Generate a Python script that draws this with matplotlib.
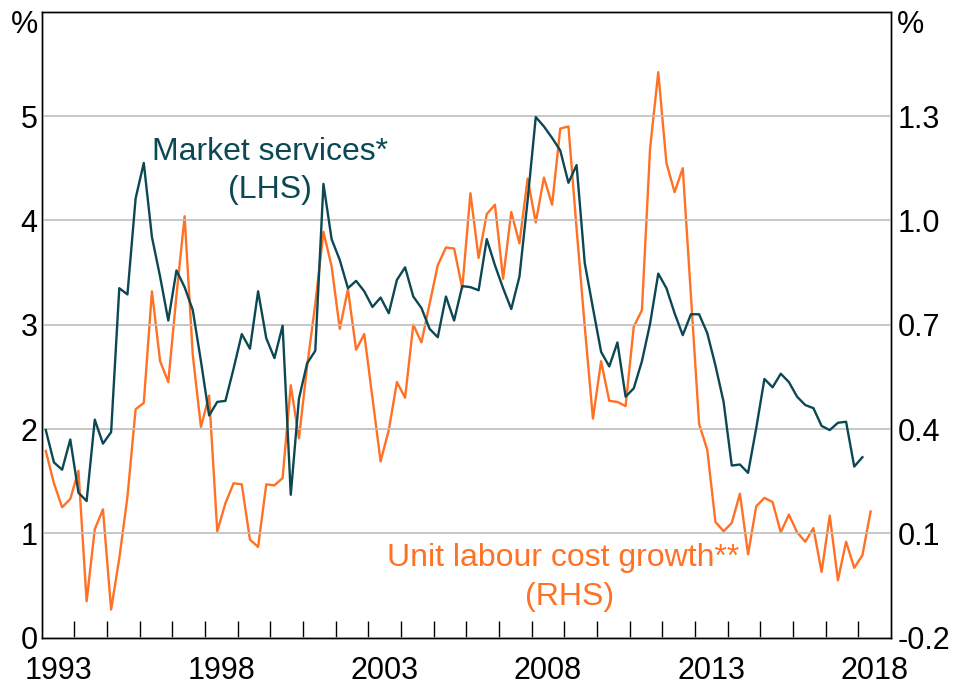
import numpy as np
import matplotlib
matplotlib.use("Agg")
import matplotlib.pyplot as plt
from matplotlib.ticker import FixedLocator, NullFormatter, FixedFormatter

plt.rcParams['font.family'] = ['Liberation Sans', 'DejaVu Sans']
plt.rcParams['axes.unicode_minus'] = False

# quarterly data, first observation 1993 Q1
start_year = 1993

# market services, % (LHS), 1993 Q1 - 2018 Q1
market_services = [
    1.99, 1.68, 1.61, 1.90, 1.39, 1.31, 2.09, 1.86, 1.97, 3.35,
    3.29, 4.21, 4.55, 3.84, 3.46, 3.04, 3.52, 3.36, 3.14, 2.65,
    2.13, 2.26, 2.27, 2.58, 2.91, 2.77, 3.32, 2.87, 2.68, 2.99,
    1.37, 2.29, 2.63, 2.75, 4.35, 3.82, 3.62, 3.35, 3.42, 3.32,
    3.17, 3.26, 3.11, 3.43, 3.55, 3.27, 3.16, 2.96, 2.88, 3.27,
    3.04, 3.37, 3.36, 3.33, 3.82, 3.57, 3.35, 3.15, 3.46, 4.19,
    4.99, 4.90, 4.79, 4.67, 4.36, 4.53, 3.59, 3.16, 2.74, 2.60,
    2.83, 2.31, 2.39, 2.65, 3.01, 3.49, 3.35, 3.11, 2.90, 3.10,
    3.10, 2.92, 2.61, 2.26, 1.65, 1.66, 1.58, 2.01, 2.48, 2.40,
    2.53, 2.45, 2.31, 2.23, 2.20, 2.03, 1.99, 2.06, 2.07, 1.64,
    1.73,
]

# unit labour cost growth, % (RHS), 1993 Q1 - 2018 Q2
ulc_growth = [
    0.337, 0.244, 0.175, 0.199, 0.280, -0.095, 0.112, 0.169, -0.119, 0.028,
    0.205, 0.457, 0.475, 0.796, 0.595, 0.535, 0.784, 1.012, 0.613, 0.406,
    0.496, 0.106, 0.187, 0.244, 0.241, 0.082, 0.061, 0.241, 0.238, 0.259,
    0.526, 0.373, 0.580, 0.760, 0.967, 0.868, 0.688, 0.802, 0.628, 0.673,
    0.490, 0.307, 0.397, 0.535, 0.490, 0.700, 0.649, 0.760, 0.871, 0.922,
    0.919, 0.805, 1.078, 0.892, 1.018, 1.045, 0.832, 1.024, 0.934, 1.120,
    0.994, 1.123, 1.045, 1.264, 1.270, 0.976, 0.694, 0.430, 0.595, 0.481,
    0.478, 0.466, 0.694, 0.742, 1.207, 1.426, 1.165, 1.081, 1.150, 0.784,
    0.415, 0.340, 0.133, 0.106, 0.130, 0.214, 0.040, 0.178, 0.202, 0.190,
    0.103, 0.154, 0.103, 0.076, 0.115, -0.011, 0.151, -0.035, 0.076, 0.001,
    0.037, 0.163,
]

left_ticks = [0, 1, 2, 3, 4, 5]
right_ticks = [-0.2, 0.1, 0.4, 0.7, 1.0, 1.3]
year_labels = ['1993', '1998', '2003', '2008', '2013', '2018']

dark = '#0B4853'
orange = '#FF7124'

t_ms = start_year + (np.arange(len(market_services)) + 0.5) / 4
t_ulc = start_year + (np.arange(len(ulc_growth)) + 0.5) / 4

fig = plt.figure(figsize=(9.57, 6.86), dpi=100)
ax = fig.add_axes([41.7 / 957, 1 - 637.7 / 686, 849.3 / 957, 626 / 686])
ax2 = ax.twinx()

ax.set_xlim(1993, 2019)
ax.set_ylim(0, 6)
ax2.set_ylim(-0.2, 1.6)

ax.set_yticks(left_ticks)
ax.set_yticklabels([str(v) for v in left_ticks])
ax2.set_yticks(right_ticks)
ax2.set_yticklabels(['%.1f' % v for v in right_ticks])

ax.yaxis.grid(True, color='#BDBDBD', linewidth=1.2)
ax.set_axisbelow(True)

# year boundaries as inward ticks, labels centred in the year
ax.xaxis.set_major_locator(FixedLocator(np.arange(1994, 2019)))
ax.xaxis.set_major_formatter(NullFormatter())
ax.xaxis.set_minor_locator(FixedLocator([int(y) + 0.5 for y in year_labels]))
ax.xaxis.set_minor_formatter(FixedFormatter(year_labels))
ax.tick_params(axis='x', which='major', direction='in', length=12, width=1, top=False)
ax.tick_params(axis='x', which='minor', length=0, labelsize=22, pad=13)
ax.tick_params(axis='y', length=0, labelsize=22, pad=3)
ax2.tick_params(axis='y', length=0, labelsize=22, pad=5)

for a in (ax, ax2):
    for s in a.spines.values():
        s.set_linewidth(1.0)
        s.set_color('black')

ax2.plot(t_ulc, ulc_growth, color=orange, linewidth=1.7)
ax.plot(t_ms, market_services, color=dark, linewidth=1.7)
ax.set_zorder(ax2.get_zorder() + 1)
ax.patch.set_visible(False)

ax.text(2000.0, 4.66, 'Market services*', color=dark, fontsize=23, ha='center', va='center')
ax.text(2000.0, 4.29, '(LHS)', color=dark, fontsize=23, ha='center', va='center')
ax.text(2008.95, 0.76, 'Unit labour cost growth**', color=orange, fontsize=23, ha='center', va='center')
ax.text(2009.15, 0.39, '(RHS)', color=orange, fontsize=23, ha='center', va='center')

fig.text(24 / 957, 1 - 25 / 686, '%', fontsize=22, ha='center', va='center')
fig.text(911 / 957, 1 - 25 / 686, '%', fontsize=22, ha='center', va='center')

fig.savefig('out.png', dpi=100)
